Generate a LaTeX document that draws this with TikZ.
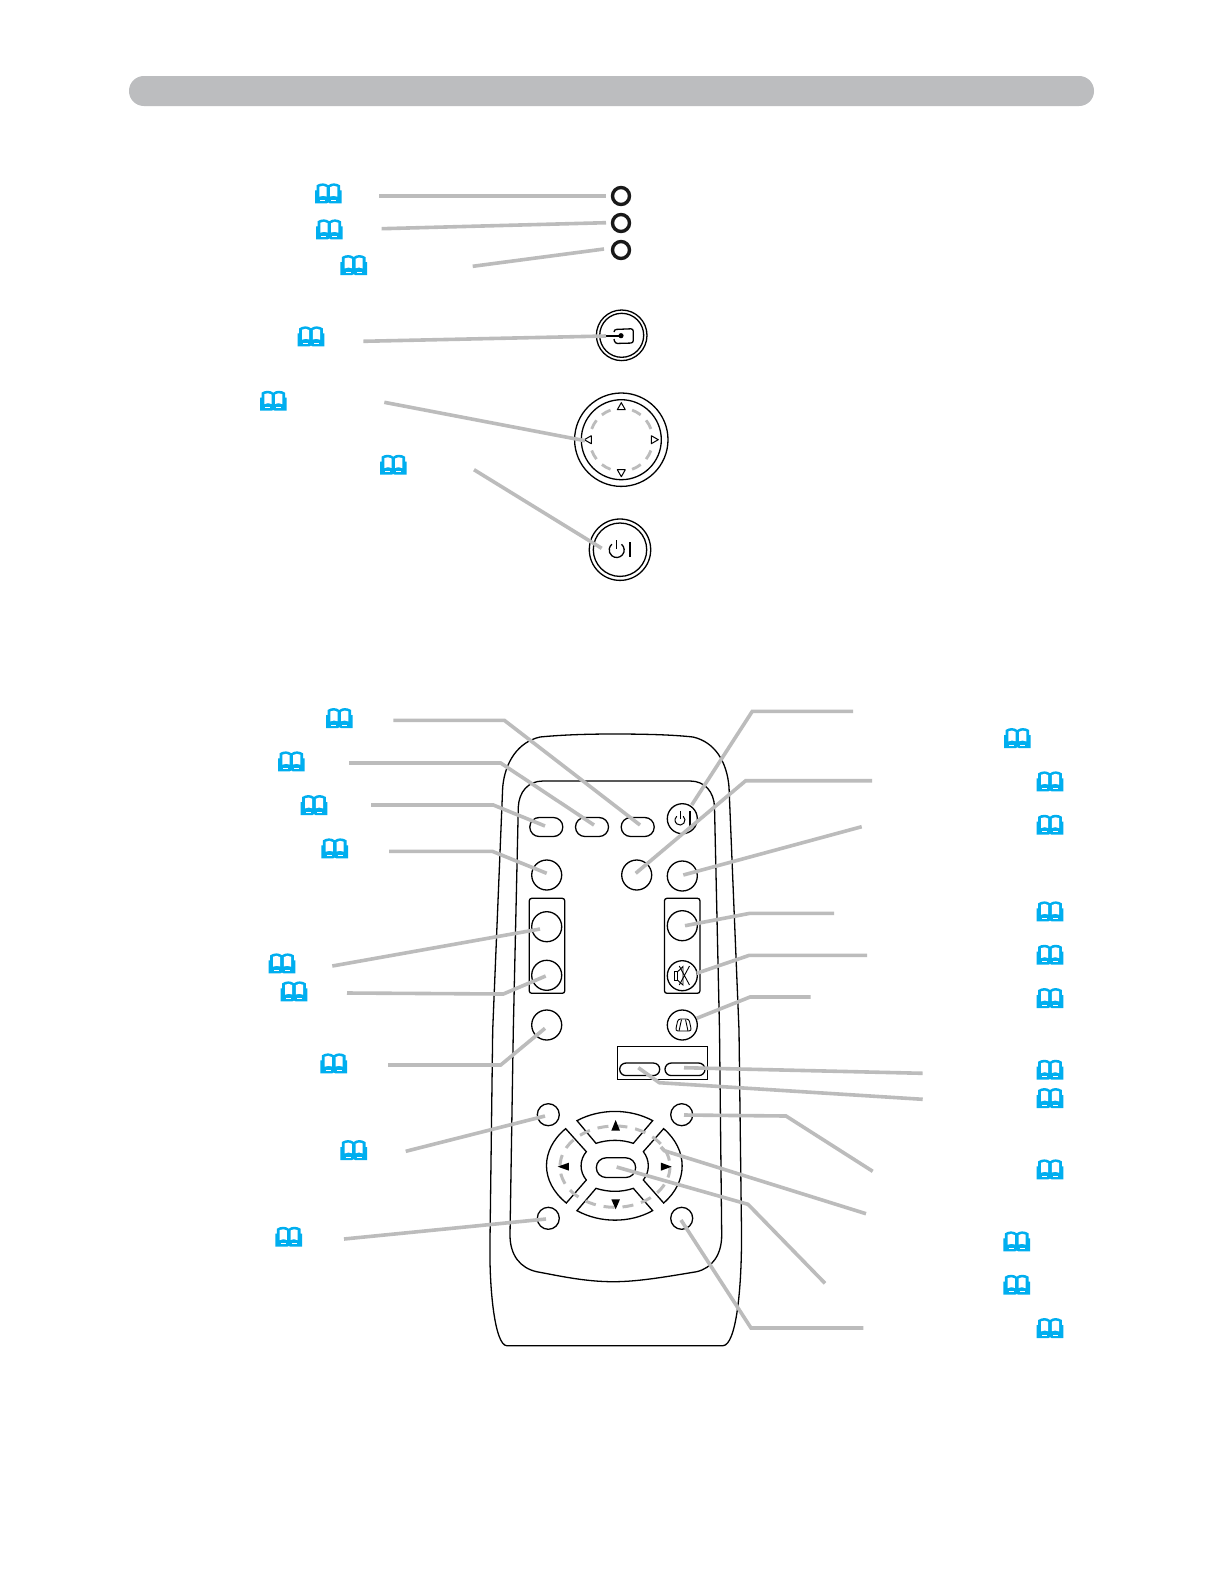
\documentclass[tikz,border=0pt]{standalone}
\usetikzlibrary{calc}
\definecolor{barg}{HTML}{BCBDBF}
\definecolor{lineg}{HTML}{BCBCBC}
\definecolor{bookc}{HTML}{00AEEF}
\tikzset{
  x=1pt,y=-1pt,
  conn/.style={draw=lineg,line width=3.6pt},
  ledn/.style={circle,draw=black!90,line width=3.4pt,minimum size=17pt,inner sep=0pt},
  rbtn/.style={circle,draw=black,line width=1.3pt,minimum size=30pt,inner sep=0pt},
  sbtn/.style={circle,draw=black,line width=1.3pt,minimum size=22pt,inner sep=0pt},
  pilla/.style={rectangle,rounded corners=9.4pt,draw=black,line width=1.3pt,minimum width=33pt,minimum height=19pt,inner sep=0pt},
  pillb/.style={rectangle,rounded corners=6.2pt,draw=black,line width=1.3pt,minimum width=40pt,minimum height=12.5pt,inner sep=0pt},
  grp/.style={rectangle,rounded corners=2.5pt,draw=black,line width=1.3pt,minimum width=35.5pt,minimum height=95pt,inner sep=0pt},
  ringo/.style={circle,draw=black,line width=1.3pt,inner sep=0pt},
  outl/.style={draw=black,line width=1.3pt},
  tri/.style={fill=black},
  bookicon/.pic={
    \fill[bookc] (-13.3,10) -- (-13.3,-3) -- (-11.8,-3) -- (-11.8,-8) .. controls (-8,-10.6) and (-3,-10.6) .. (0,-8)
      .. controls (3,-10.6) and (8,-10.6) .. (11.8,-8) -- (11.8,-3) -- (13.3,-3) -- (13.3,10) -- (1.5,10) -- (0,9.2) -- (-1.5,10) -- cycle;
    \fill[white] (-9,-6.6) .. controls (-7,-7.8) and (-3.5,-7.8) .. (-1.8,-6.2) -- (-1.8,3.2) .. controls (-3.5,2.2) and (-7,2.2) .. (-9,3.4) -- cycle;
    \fill[white] (9,-6.6) .. controls (7,-7.8) and (3.5,-7.8) .. (1.8,-6.2) -- (1.8,3.2) .. controls (3.5,2.2) and (7,2.2) .. (9,3.4) -- cycle;
    \draw[white,line width=.45pt] (-8,6.8) -- (-3,6.8) (3,6.8) -- (8,6.8);
  },
}
\begin{document}
\begin{tikzpicture}
\useasboundingbox (0,0) rectangle (1225,1585);
\fill[white] (0,0) rectangle (1225,1585);
% header bar
\node[fill=barg,rounded corners=14.9pt,minimum width=965pt,minimum height=30pt,inner sep=0pt] (bar) at (611.5,91) {};
% book icons
\foreach \bx/\by in {328.3/193.3,329.3/229.3,353.7/265,311/336.3,273.3/400.7,393.3/464.7,
  339.3/718,291.3/761.3,314/805,334.7/848.3,282/963.3,294/991.3,333.7/1063.3,353.7/1150,288.7/1236.7,
  1017.3/738,1050/781.3,1050/824.7,1050/911.3,1050/954.7,1050/998,1050/1069.7,1050/1098,1050/1169.3,1016.7/1241.3,1016.7/1284.7,1050/1328}
  {\pic at (\bx,\by) {bookicon};}
% control panel
\node[ledn] (led1) at (621,196) {};
\node[ledn] (led2) at (621,223) {};
\node[ledn] (led3) at (621,250) {};
\node[ringo,minimum size=50.6pt] (inp) at (621.7,335.3) {};
\node[ringo,minimum size=44pt] (inpi) at (621.7,335.3) {};
\draw[line width=1.3pt,rounded corners=2.5pt] (614,332) -- (614,329.5) -- (633.3,328.7) -- (633.3,343) -- (615,343.5) -- (614,339);
\fill (621,335.7) circle (2.6);
\draw[line width=1.3pt] (604,336) -- (621,336);
\node[ringo,minimum size=93.4pt] (nav) at (621.3,439.7) {};
\node[ringo,minimum size=80pt] (navi) at (621.3,439.7) {};
\begin{scope}[shift={(621.3,439.7)}]
\foreach \qa in {0,90,180,270}{
  \draw[lineg,line width=2.8pt] (\qa+20:31.5) arc[start angle=\qa+20,end angle=\qa+38,radius=31.5];
  \draw[lineg,line width=2.8pt] (\qa+52:31.5) arc[start angle=\qa+52,end angle=\qa+70,radius=31.5];
  \begin{scope}[rotate=\qa]
    \draw[line width=1pt,fill=white,line join=round] (30,-4) -- (37,0) -- (30,4) -- cycle;
  \end{scope}}
\end{scope}
\node[ringo,minimum size=61.4pt] (pwr) at (620,549.7) {};
\node[ringo,minimum size=53.4pt] (pwri) at (620,549.7) {};
\draw[line width=1.3pt] (621.5,544.25) arc[start angle=-50,end angle=230,radius=7.5];
\draw[line width=1.3pt] (616.7,540) -- (616.7,549);
\draw[line width=1.4pt] (630,542.3) -- (630,557.3);
% remote body
\draw[outl,name=body] (613,734) .. controls (650,734) and (675,735) .. (693,737) .. controls (715,742) and (727,762) .. (729,787) -- (739,1030) -- (741.5,1230) .. controls (742,1290) and (736,1345) .. (723,1345.7) -- (506.7,1345.7) .. controls (495,1345) and (489,1290) .. (490,1240) -- (492.7,1030) -- (502.7,787) .. controls (505,762) and (518,742) .. (540,737) .. controls (560,735) and (585,734) .. (613,734) -- cycle;
\draw[outl] (613,781) -- (690,781) .. controls (705,781) and (714,792) .. (714.5,807) -- (719.5,1030) -- (721.7,1235) .. controls (721.7,1255) and (712,1268) .. (696.7,1271.7) .. controls (670,1276) and (640,1281.7) .. (613.3,1281.7) .. controls (585,1281.7) and (560,1276) .. (536.7,1271.7) .. controls (520,1268) and (510,1255) .. (510,1235) -- (513.3,1030) -- (518.3,807) .. controls (519,792) and (528,781) .. (543,781) -- cycle;
% remote buttons
\node[pilla] (p1) at (546.3,827) {};
\node[pilla] (p2) at (592,827) {};
\node[pilla] (p3) at (637.7,827) {};
\node[rbtn] (rpw) at (682.3,818.7) {};
\node[rbtn] (c1) at (546.7,875) {};
\node[rbtn] (c2) at (636.7,875) {};
\node[rbtn] (c3) at (682.3,876) {};
\node[grp] (gl) at (547,945.8) {};
\node[grp] (gr) at (682.2,945.8) {};
\node[rbtn] (c4) at (546.7,926.7) {};
\node[rbtn] (c5) at (546.7,975.3) {};
\node[rbtn] (c6) at (682.3,925.7) {};
\node[rbtn] (c7) at (682.3,975.7) {};
\node[rbtn] (c8) at (546.7,1025) {};
\node[rbtn] (c9) at (682.3,1025) {};
\node[rectangle,draw=black,line width=1.1pt,minimum width=90pt,minimum height=33pt,inner sep=0pt] (rbox) at (662.3,1062.8) {};
\node[pillb] (p4) at (639.7,1069.3) {};
\node[pillb] (p5) at (685,1069.3) {};
\node[sbtn] (s1) at (548.3,1114.7) {};
\node[sbtn] (s2) at (681.7,1114.7) {};
\node[sbtn] (s3) at (548.3,1218.3) {};
\node[sbtn] (s4) at (681.7,1218.3) {};
% remote power icon
\draw[line width=1pt] (683.2,816.2) arc[start angle=-50,end angle=230,radius=5];
\draw[line width=1pt] (680,811) -- (680,818.5);
\draw[line width=1.2pt] (690,811) -- (690,825.7);
% mute icon
\draw[line width=.9pt] (674,971.5) rectangle (677.3,980);
\draw[line width=.9pt] (677.3,972) -- (683,966.5) -- (683,985) -- (677.3,980);
\draw[line width=.9pt] (679.3,966) -- (689.5,985) (689.5,966) -- (679.3,985);
% keystone icon
\draw[line width=.9pt,rounded corners=2.5pt] (675.5,1031) -- (678,1019) -- (689,1019) -- (691.5,1031) -- cycle;
\draw[line width=.9pt] (681.5,1019.5) -- (679,1031) (685.5,1019.5) -- (688,1031);
% d-pad
\begin{scope}[shift={(480,1030)},x=0.3333pt,y=-0.3333pt]
\draw[outl,name=up] (291,272) .. controls (360,235) and (450,235) .. (518,272) -- (460,340) .. controls (425,328) and (385,328) .. (348,340) -- cycle;
\draw[outl] (291,542) .. controls (360,580) and (450,580) .. (518,542) -- (460,475) .. controls (425,487) and (385,487) .. (348,475) -- cycle;
\draw[outl] (257,296) .. controls (180,360) and (180,455) .. (259,519) -- (319,450) .. controls (298,425) and (298,390) .. (319,365) -- cycle;
\draw[outl] (551,296) .. controls (625,360) and (625,455) .. (551,519) -- (490,450) .. controls (510,425) and (510,390) .. (490,365) -- cycle;
\node[rectangle,rounded corners=9.8pt,draw=black,line width=1.3pt,minimum width=39.3pt,minimum height=19.7pt,inner sep=0pt] (ok) at (408,413) {};
\draw[lineg,line width=3pt,dash pattern=on 11pt off 8pt] (405,410) ellipse (165 and 122);
\fill[tri] (407,270) -- (420,302) -- (394,302) -- cycle;
\fill[tri] (407,538) -- (420,508) -- (394,508) -- cycle;
\fill[tri] (233,410) -- (267,398) -- (267,422) -- cycle;
\fill[tri] (575,410) -- (543,398) -- (543,422) -- cycle;
\end{scope}
% connector free ends
\coordinate (a1) at (379,196); \coordinate (a2) at (381.7,228.7); \coordinate (a3) at (472.7,266.3);
\coordinate (a4) at (363.3,341.3); \coordinate (a5) at (384.3,402.3); \coordinate (a6) at (474,469.7);
\coordinate (l1) at (393.3,720.3); \coordinate (l1b) at (504.3,720.3);
\coordinate (l2) at (349,763); \coordinate (l2b) at (500.7,763);
\coordinate (l3) at (371,805); \coordinate (l3b) at (493.3,805);
\coordinate (l4) at (389,851.3); \coordinate (l4b) at (492.3,851.3);
\coordinate (l5) at (332.3,966);
\coordinate (l6) at (347,993); \coordinate (l6b) at (503.3,994);
\coordinate (l7) at (388,1065); \coordinate (l7b) at (500.7,1065);
\coordinate (l8) at (405.7,1151.3);
\coordinate (l9) at (344,1239);
\coordinate (r1) at (853,711.3); \coordinate (r1b) at (752.3,711.3);
\coordinate (r2) at (872,780.7); \coordinate (r2b) at (745.7,780.7);
\coordinate (r3) at (861.7,826.7);
\coordinate (r4) at (834,913.3); \coordinate (r4b) at (750,913.3);
\coordinate (r5) at (867,955.3); \coordinate (r5b) at (749.3,955.3);
\coordinate (r6) at (810.7,997); \coordinate (r6b) at (750,997);
\coordinate (r7) at (922.7,1073.3);
\coordinate (r8) at (922.7,1099.3); \coordinate (r8b) at (659.3,1082.7);
\coordinate (r9) at (872.7,1171.3); \coordinate (r9b) at (786,1116);
\coordinate (r10) at (866,1213.7);
\coordinate (r11) at (825,1283.3); \coordinate (r11b) at (748,1204.3);
\coordinate (r12) at (863.3,1328); \coordinate (r12b) at (751,1328);
% connectors
\draw[conn] (a1) -- ([shift={(-15,0)}]led1.center);
\draw[conn] (a2) -- ([shift={(-15,-0.3)}]led2.center);
\draw[conn] (a3) -- ([shift={(-17,-1)}]led3.center);
\draw[conn] (a4) -- ([shift={(-15.7,0.7)}]inp.center);
\draw[conn] (a5) -- ([shift={(-36.3,1)}]nav.center);
\draw[conn] (a6) -- ([shift={(-18.3,-1.4)}]pwr.center);
\draw[conn] (l1) -- (l1b) -- ([shift={(2.3,-2)}]p3.center);
\draw[conn] (l2) -- (l2b) -- ([shift={(2,-2)}]p2.center);
\draw[conn] (l3) -- (l3b) -- ([shift={(-1.3,-1)}]p1.center);
\draw[conn] (l4) -- (l4b) -- ([shift={(0,-1.7)}]c1.center);
\draw[conn] (l5) -- ([shift={(-6.7,2.3)}]c4.center);
\draw[conn] (l6) -- (l6b) -- ([shift={(-1,0.7)}]c5.center);
\draw[conn] (l7) -- (l7b) -- ([shift={(-1.7,3.3)}]c8.center);
\draw[conn] (l8) -- ([shift={(-3.3,1.3)}]s1.center);
\draw[conn] (l9) -- ([shift={(-2.3,0.7)}]s3.center);
\draw[conn] (r1) -- (r1b) -- ([shift={(9.4,-13.7)}]rpw.center);
\draw[conn] (r2) -- (r2b) -- ([shift={(-1,-1.7)}]c2.center);
\draw[conn] (r3) -- ([shift={(1,-1)}]c3.center);
\draw[conn] (r4) -- (r4b) -- ([shift={(2.7,0)}]c6.center);
\draw[conn] (r5) -- (r5b) -- ([shift={(14.4,-2.4)}]c7.center);
\draw[conn] (r6) -- (r6b) -- ([shift={(14.4,-6.7)}]c9.center);
\draw[conn] (r7) -- ([shift={(-1,-1.6)}]p5.center);
\draw[conn] (r8) -- (r8b) -- ([shift={(-1.4,-1.6)}]p4.center);
\draw[conn] (r9) -- (r9b) -- ([shift={(2.3,0.3)}]s2.center);
\draw[conn] (r10) -- (664.3,1150.7) -- ([shift={(45,-20.7)}]ok.center);
\draw[conn] (r11) -- (r11b) -- ([shift={(0.7,-0.6)}]ok.center);
\draw[conn] (r12) -- (r12b) -- ([shift={(-0.7,1.7)}]s4.center);
\end{tikzpicture}
\end{document}
